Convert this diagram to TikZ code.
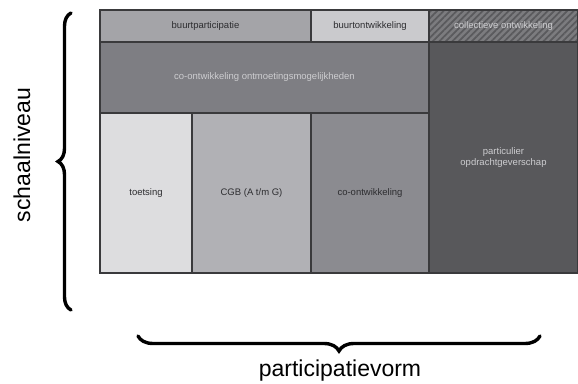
\documentclass[tikz,border=0pt]{standalone}
\usepackage{fontspec}
\setmainfont{Liberation Sans}
\usetikzlibrary{positioning,decorations.pathreplacing,patterns.meta}
\definecolor{cellline}{RGB}{58,58,60}
\definecolor{darktext}{RGB}{45,45,48}
\definecolor{lighttext}{RGB}{205,205,208}
\definecolor{buurtpart}{RGB}{164,164,168}
\definecolor{buurtontw}{RGB}{202,202,205}
\definecolor{collbase}{RGB}{124,124,127}
\definecolor{collline}{RGB}{90,90,93}
\definecolor{ontmoet}{RGB}{126,126,131}
\definecolor{toets}{RGB}{221,221,223}
\definecolor{cgb}{RGB}{177,177,181}
\definecolor{coontw}{RGB}{139,139,144}
\definecolor{partic}{RGB}{88,88,91}

\begin{document}
\begin{tikzpicture}[x=1pt,y=1pt,
  cell/.style={rectangle,draw=cellline,line width=1.2pt,inner sep=1pt,align=center,font=\fontsize{9.5}{11.5}\selectfont,text=darktext},
  darkcell/.style={cell,text=lighttext},
  curly/.style={decorate,decoration={brace,amplitude=#1},line width=3.4pt,line cap=round},
  axislabel/.style={font=\fontsize{23}{27}\selectfont,text=black,inner sep=0pt}
]
\useasboundingbox (0,0) rectangle (578,383);

% top row
\node[cell,fill=buurtpart,minimum width=211,minimum height=32] (buurtpart) at (205.5,357) {buurtparticipatie};
\node[cell,fill=buurtontw,minimum width=118,minimum height=32] (buurtontw) at (370,357) {buurtontwikkeling};
\node[darkcell,preaction={fill=collbase},pattern={Lines[angle=45,distance=4.6pt,line width=1.8pt]},pattern color=collline,minimum width=149,minimum height=32] (collectief) at (503.5,357) {collectieve ontwikkeling};

% middle row
\node[darkcell,fill=ontmoet,minimum width=329,minimum height=71] (ontmoet) at (264.5,305.5) {co-ontwikkeling ontmoetingsmogelijkheden};

% bottom row
\node[cell,fill=toets,minimum width=92,minimum height=160] (toets) at (146,190) {toetsing};
\node[cell,fill=cgb,minimum width=119,minimum height=160] (cgb) at (251.5,190) {CGB (A t/m G)};
\node[cell,fill=coontw,minimum width=118,minimum height=160] (coontw) at (370,190) {co-ontwikkeling};
\node[darkcell,fill=partic,minimum width=149,minimum height=231] (partic) at (503.5,225.5) {particulier\\opdrachtgeverschap};

% axes
\coordinate (schaaltop) at (71,370);
\coordinate (schaalbot) at (71,73);
\coordinate (vormleft) at (138,47);
\coordinate (vormright) at (540,47);
\draw[curly=13pt] (schaalbot) -- (schaaltop);
\draw[curly=15pt] (vormright) -- (vormleft);
\node[axislabel,rotate=90] (schaal) at (22,228) {schaalniveau};
\node[axislabel] (vorm) at (340,12) {participatievorm};
\end{tikzpicture}
\end{document}
